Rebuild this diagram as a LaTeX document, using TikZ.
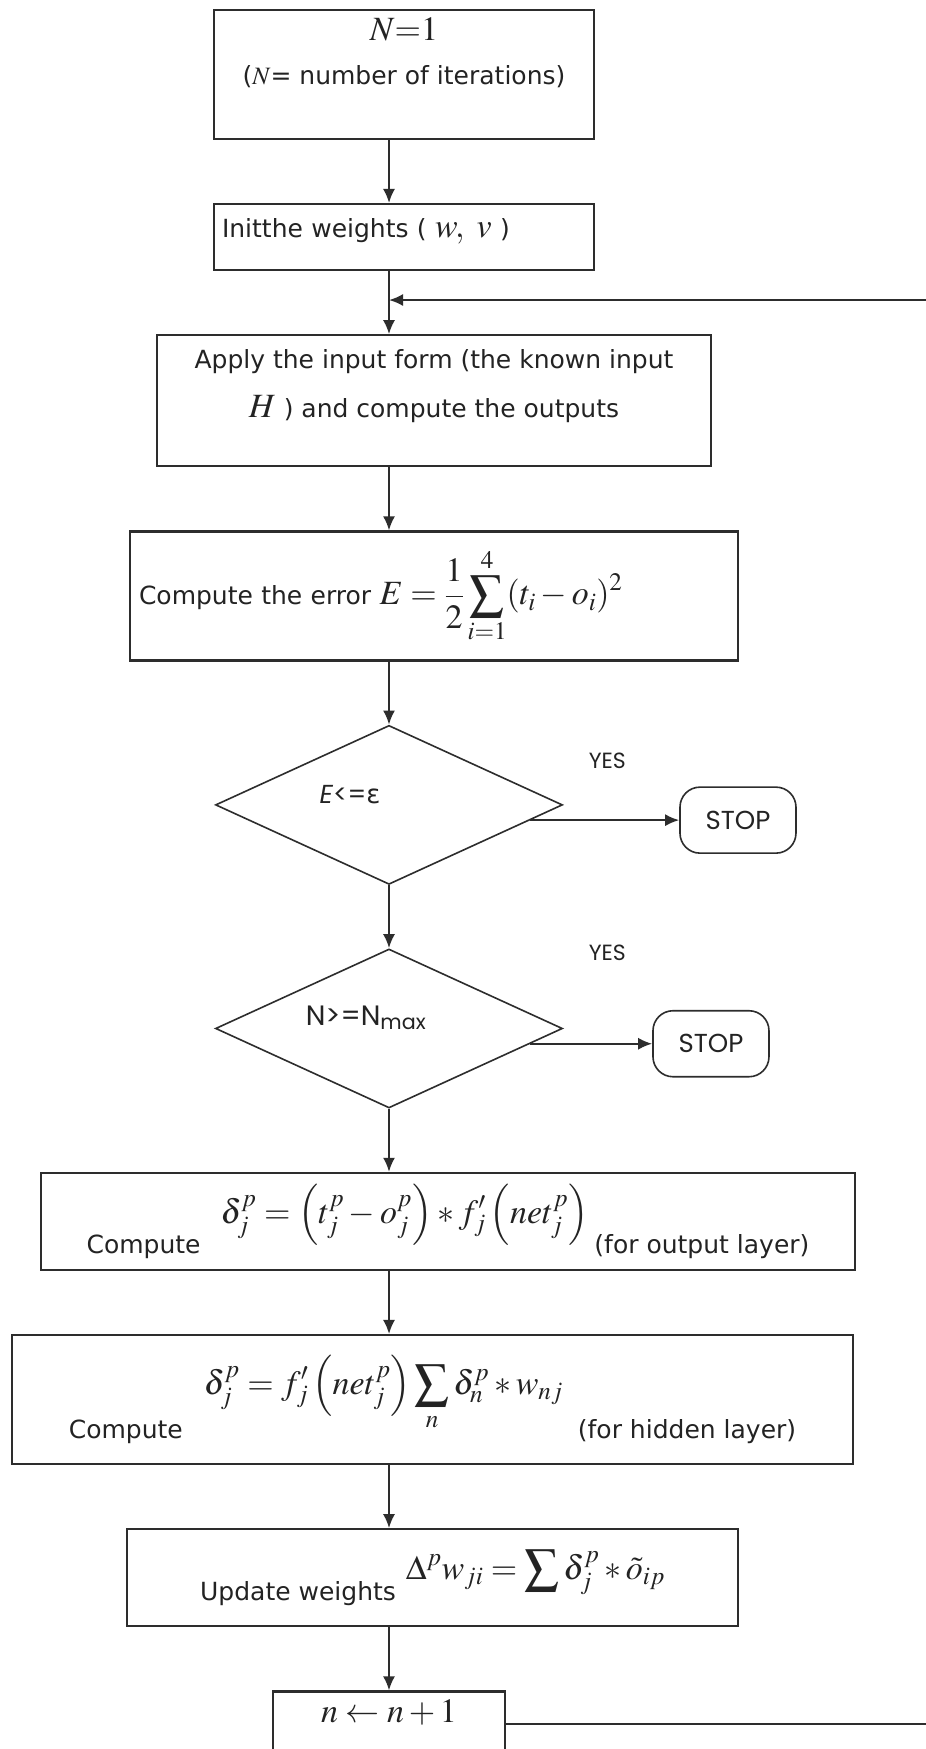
\documentclass[tikz,border=0pt]{standalone}
\usepackage{mathptmx}
\usepackage[no-math]{fontspec}
\setmainfont{DejaVu Sans}
\newfontfamily\gothicfont{Poppins}
\usepackage{xcolor}
\definecolor{linegray}{RGB}{45,45,45}
\definecolor{textgray}{RGB}{35,35,35}
\usetikzlibrary{shapes.geometric,arrows.meta,positioning,calc}
\newcommand{\eq}[1]{{\fontsize{34}{36}\selectfont$\displaystyle #1$}}

\begin{document}
\begin{tikzpicture}[
  node distance=63pt,
  flowbox/.style={draw=linegray, line width=2.2pt, text=textgray, font=\fontsize{25}{30}\selectfont, align=center, inner sep=8pt},
  decision/.style={diamond, draw=linegray, line width=1.6pt, minimum width=347pt, minimum height=159pt, inner sep=0pt},
  stopbox/.style={draw=linegray, line width=1.6pt, rounded corners=20pt, minimum width=116pt, minimum height=66pt, text=textgray, font=\gothicfont\fontsize{26}{28}\selectfont},
  yeslabel/.style={text=textgray, font=\gothicfont\fontsize{22}{24}\selectfont},
  arrow/.style={-{Latex[length=14pt,width=12pt]}, line width=2pt, color=linegray}
]
\path[fill=white] (0,0) rectangle (926pt,-1749pt);
\useasboundingbox (0,0) rectangle (926pt,-1749pt);
\coordinate (spine) at (389pt,0);
\coordinate (merge) at (389pt,-300pt);
\coordinate (loopside) at (960pt,0);

% main column
\node[flowbox, minimum width=380pt, minimum height=127pt, font=\fontsize{25}{44}\selectfont, text depth=46pt] (start) at (404pt,-74.5pt) {\eq{N{=}1}\\($N$= number of iterations)};
\node[flowbox, text width=364pt, align=left, minimum height=66pt, text depth=19pt, below=of start] (weights) {Initthe weights ( \eq{w,\ v} )};
\node[flowbox, minimum width=554pt, minimum height=131pt, font=\fontsize{25}{49}\selectfont, text depth=35pt, below=of weights, xshift=30pt] (apply) {Apply the input form (the known input\\\eq{H}\ ) and compute the outputs};
\node[flowbox, text width=590pt, align=left, inner xsep=9pt, minimum height=129pt, below=of apply] (error) {Compute the error \eq{E=\frac{1}{2}\sum_{i=1}^{4}(t_i-o_i)^2}};
\node[decision, below=of error, xshift=-45pt, label={[xshift=-39pt, yshift=10pt, text=textgray, font=\gothicfont\fontsize{26}{28}\selectfont]center:\textit{E}<={\normalfont ε}}] (check1) {};
\node[decision, below=of check1, label={[xshift=-23pt, yshift=11pt, text=textgray, font=\gothicfont\fontsize{28}{30}\selectfont]center:N>=N\textsubscript{max}}] (check2) {};
\node[flowbox, minimum width=814pt, minimum height=97pt, below=of check2, xshift=59pt] (outdelta) {Compute\hspace{20pt}\raisebox{30pt}{\eq{\delta_j^p=\left(t_j^p-o_j^p\right)*f'_j\left(net_j^p\right)}}\hspace{6pt}(for output layer)};
\node[flowbox, minimum width=841pt, minimum height=129pt, below=of outdelta, xshift=-15.5pt] (hiddelta) {Compute\hspace{21pt}\raisebox{44pt}{\eq{\delta_j^p=f'_j\left(net_j^p\right)\sum_n\delta_n^p*w_{nj}}}\hspace{15pt}(for hidden layer)};
\node[flowbox, minimum width=611pt, minimum height=97pt, below=of hiddelta] (update) {Update weights\hspace{10pt}\raisebox{21pt}{\eq{\Delta^p w_{ji}=\sum\delta_j^p*\tilde{o}_{ip}}}};
\node[flowbox, minimum width=232pt, minimum height=66pt, text depth=26pt, below=of update, xshift=-43.5pt] (increment) {\eq{n\leftarrow n+1}};

% exits
\coordinate (exit1) at ($(check1.east)!0.19!(check1.south)$);
\coordinate (exit2) at ($(check2.east)!0.19!(check2.south)$);
\node[stopbox, right=149pt of exit1] (stop1) {STOP};
\node[stopbox, right=122pt of exit2] (stop2) {STOP};
\node[yeslabel] (yes1) at ($(check1.east)+(44pt,44pt)$) {YES};
\node[yeslabel] (yes2) at ($(check2.east)+(44pt,76pt)$) {YES};

\draw[arrow] (start.south -| spine) -- (weights.north -| spine);
\draw[arrow] (weights.south -| spine) -- (apply.north -| spine);
\draw[arrow] (apply.south -| spine) -- (error.north -| spine);
\draw[arrow] (error.south -| spine) -- (check1.north);
\draw[arrow] (check1.south) -- (check2.north);
\draw[arrow] (check2.south) -- (outdelta.north -| spine);
\draw[arrow] (outdelta.south -| spine) -- (hiddelta.north -| spine);
\draw[arrow] (hiddelta.south -| spine) -- (update.north -| spine);
\draw[arrow] (update.south -| spine) -- (increment.north -| spine);
\draw[arrow] (exit1) -- (stop1.west);
\draw[arrow] (exit2) -- (stop2.west);
% loop back
\draw[arrow] (increment.east) -- (increment.east -| loopside) |- (merge);
\end{tikzpicture}
\end{document}
